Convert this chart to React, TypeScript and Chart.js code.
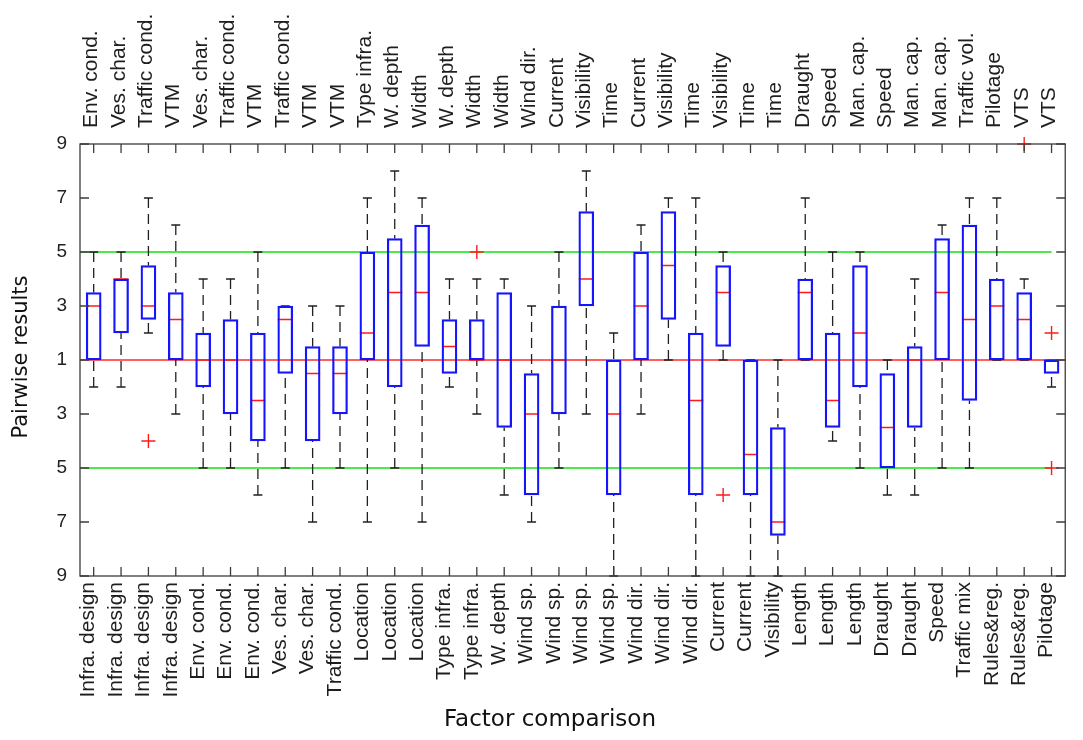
import { useEffect, useRef } from 'react';
import { Chart, registerables } from 'chart.js';

Chart.register(...registerables);

// Factor on the second side of each pairwise comparison (top axis)
const topLabels = [
  'Env. cond.', 'Ves. char.', 'Traffic cond.', 'VTM', 'Ves. char.', 'Traffic cond.', 'VTM',
  'Traffic cond.', 'VTM', 'VTM', 'Type infra.', 'W. depth', 'Width', 'W. depth', 'Width',
  'Width', 'Wind dir.', 'Current', 'Visibility', 'Time', 'Current', 'Visibility', 'Time',
  'Visibility', 'Time', 'Time', 'Draught', 'Speed', 'Man. cap.', 'Speed', 'Man. cap.',
  'Man. cap.', 'Traffic vol.', 'Pilotage', 'VTS', 'VTS',
];

// Factor on the first side of each pairwise comparison (bottom axis)
const bottomLabels = [
  'Infra. design', 'Infra. design', 'Infra. design', 'Infra. design', 'Env. cond.',
  'Env. cond.', 'Env. cond.', 'Ves. char.', 'Ves. char.', 'Traffic cond.', 'Location',
  'Location', 'Location', 'Type infra.', 'Type infra.', 'W. depth', 'Wind sp.', 'Wind sp.',
  'Wind sp.', 'Wind sp.', 'Wind dir.', 'Wind dir.', 'Wind dir.', 'Current', 'Current',
  'Visibility', 'Length', 'Length', 'Length', 'Draught', 'Draught', 'Speed', 'Traffic mix',
  'Rules&reg.', 'Rules&reg.', 'Pilotage',
];

// Box statistics on the signed scale: 0 = equal importance (1),
// +k = top factor favoured (k+1), -k = bottom factor favoured (k+1)
const whiskerHigh = [4, 4, 6, 5, 3, 3, 4, 2, 2, 2, 6, 7, 6, 3, 3, 3, 2, 4, 7, 1, 5, 6, 6, 4, 0, 0, 6, 4, 4, 0, 3, 5, 6, 6, 3, 0];
const boxHigh = [2.5, 3, 3.5, 2.5, 1, 1.5, 1, 2, 0.5, 0.5, 4, 4.5, 5, 1.5, 1.5, 2.5, -0.5, 2, 5.5, 0, 4, 5.5, 1, 3.5, 0, -2.5, 3, 1, 3.5, -0.5, 0.5, 4.5, 5, 3, 2.5, 0];
const medians = [2, 3, 2, 1.5, 0, 0, -1.5, 1.5, -0.5, -0.5, 1, 2.5, 2.5, 0.5, 0, 0, -2, 0, 3, -2, 2, 3.5, -1.5, 2.5, -3.5, -6, 2.5, -1.5, 1, -2.5, 0, 2.5, 1.5, 2, 1.5, 0];
const boxLow = [0, 1, 1.5, 0, -1, -2, -3, -0.5, -3, -2, 0, -1, 0.5, -0.5, 0, -2.5, -5, -2, 2, -5, 0, 1.5, -5, 0.5, -5, -6.5, 0, -2.5, -1, -4, -2.5, 0, -1.5, 0, 0, -0.5];
const whiskerLow = [-1, -1, 1, -2, -4, -4, -5, -4, -6, -4, -6, -4, -6, -1, -2, -5, -6, -4, -2, -8, -2, 0, -8, 0, -8, -8, 0, -3, -4, -5, -5, -4, -4, 0, 0, -1];

// Outliers: comparison number and value
const outlierComparison = [3, 15, 24, 35, 36, 36];
const outlierValue = [-3, 4, -5, 8, 1, -4];

// Signed scale ticks and the guide lines (equal importance, +/-5)
const yTickValues = [-8, -6, -4, -2, 0, 2, 4, 6, 8];
const greenLevels = [4, -4];
const redLevel = 0;

const TICK_FONT = '"Liberation Sans", Arial, sans-serif';
const TITLE_FONT = '"DejaVu Sans", Verdana, sans-serif';

const boxplotDecor = {
  id: 'boxplotDecor',
  beforeDatasetsDraw(chart: any) {
    const { ctx, chartArea } = chart;
    const xs = chart.scales.x;
    const ys = chart.scales.y;
    ctx.save();
    // guide lines
    ctx.lineWidth = 1.6;
    ctx.strokeStyle = '#10e010';
    greenLevels.forEach((lv) => {
      const y = ys.getPixelForValue(lv);
      ctx.beginPath();
      ctx.moveTo(chartArea.left, y);
      ctx.lineTo(xs.getPixelForValue(36), y);
      ctx.stroke();
    });
    ctx.strokeStyle = '#ff2a2a';
    const yr = ys.getPixelForValue(redLevel);
    ctx.beginPath();
    ctx.moveTo(chartArea.left, yr);
    ctx.lineTo(chartArea.right, yr);
    ctx.stroke();

    // whiskers
    ctx.strokeStyle = '#202020';
    ctx.lineWidth = 1.3;
    for (let i = 0; i < whiskerHigh.length; i++) {
      const x = xs.getPixelForValue(i + 1);
      const yWh = ys.getPixelForValue(whiskerHigh[i]);
      const yBh = ys.getPixelForValue(boxHigh[i]);
      const yBl = ys.getPixelForValue(boxLow[i]);
      const yWl = ys.getPixelForValue(whiskerLow[i]);
      ctx.setLineDash([10, 6]);
      ctx.beginPath();
      ctx.moveTo(x, yWh);
      ctx.lineTo(x, yBh);
      ctx.moveTo(x, yWl);
      ctx.lineTo(x, yBl);
      ctx.stroke();
      ctx.setLineDash([]);
      ctx.beginPath();
      ctx.moveTo(x - 4.5, yWh);
      ctx.lineTo(x + 4.5, yWh);
      ctx.moveTo(x - 4.5, yWl);
      ctx.lineTo(x + 4.5, yWl);
      ctx.stroke();
    }
    ctx.restore();
  },
  afterDraw(chart: any) {
    const { ctx, chartArea } = chart;
    const xs = chart.scales.x;
    const ys = chart.scales.y;
    const { left, right, top, bottom } = chartArea;
    ctx.save();
    // axes frame
    ctx.strokeStyle = '#3c3c3c';
    ctx.lineWidth = 1.3;
    ctx.strokeRect(left, top, right - left, bottom - top);
    // inward tick marks
    const tl = 9;
    ctx.beginPath();
    for (let i = 0; i < bottomLabels.length; i++) {
      const x = xs.getPixelForValue(i + 1);
      ctx.moveTo(x, top);
      ctx.lineTo(x, top + tl);
      ctx.moveTo(x, bottom);
      ctx.lineTo(x, bottom - tl);
    }
    yTickValues.forEach((v) => {
      const y = ys.getPixelForValue(v);
      ctx.moveTo(left, y);
      ctx.lineTo(left + tl, y);
      ctx.moveTo(right, y);
      ctx.lineTo(right - tl, y);
    });
    ctx.stroke();

    // axis titles
    ctx.fillStyle = '#111111';
    ctx.textAlign = 'center';
    ctx.textBaseline = 'middle';
    ctx.font = `23px ${TITLE_FONT}`;
    ctx.fillText('Factor comparison', 550, 720);
    ctx.translate(22, 357);
    ctx.rotate(-Math.PI / 2);
    ctx.font = `21px ${TITLE_FONT}`;
    ctx.fillText('Pairwise results', 0, 0);
    ctx.restore();
  },
};

function categoryAxis(labels: string[], position: string, size: number, padding: number, labelOffset: number) {
  return {
    type: 'linear',
    position,
    min: 0.5,
    max: 36.5,
    offset: false,
    afterBuildTicks: (s: any) => {
      s.ticks = labels.map((_, i) => ({ value: i + 1 }));
    },
    afterFit: (s: any) => {
      s.height = size;
    },
    ticks: {
      autoSkip: false,
      minRotation: 90,
      maxRotation: 90,
      padding,
      labelOffset,
      color: '#1e1e1e',
      font: { family: TICK_FONT, size: 21 },
      callback: (_v: any, index: number) => labels[index],
    },
    grid: { display: false, drawTicks: false },
    border: { display: false },
  };
}

export default function App() {
  const canvasRef = useRef<HTMLCanvasElement | null>(null);

  useEffect(() => {
    if (!canvasRef.current) return;
    const chart = new Chart(canvasRef.current, {
      type: 'bar',
      data: {
        datasets: [
          {
            type: 'bar',
            data: boxLow.map((lo, i) => ({ x: i + 1, y: [lo, boxHigh[i]] })) as any,
            xAxisID: 'x',
            yAxisID: 'y',
            backgroundColor: 'rgba(0,0,0,0)',
            borderColor: '#1414ff',
            borderWidth: 1.6,
            borderSkipped: false,
            barThickness: 15,
          },
          {
            type: 'scatter',
            data: medians.map((m, i) => ({ x: i + 1, y: m })),
            xAxisID: 'x',
            yAxisID: 'y',
            pointStyle: 'line',
            pointRadius: 7.5,
            borderColor: '#ff1a1a',
            borderWidth: 1.6,
            showLine: false,
          },
          {
            type: 'scatter',
            data: outlierComparison.map((c, i) => ({ x: c, y: outlierValue[i] })),
            xAxisID: 'x',
            yAxisID: 'y',
            pointStyle: 'cross',
            pointRadius: 7,
            borderColor: '#ff1a1a',
            borderWidth: 1.4,
            showLine: false,
            clip: false,
          },
        ] as any,
      },
      options: {
        responsive: false,
        animation: false,
        devicePixelRatio: 1,
        layout: { padding: { left: 0, right: 8, top: 0, bottom: 0 } },
        plugins: {
          legend: { display: false },
          tooltip: { enabled: false },
        },
        scales: {
          x: categoryAxis(bottomLabels, 'bottom', 164, 6, -5) as any,
          x2: categoryAxis(topLabels, 'top', 144, 16, 23) as any,
          y: {
            type: 'linear',
            min: -8,
            max: 8,
            afterBuildTicks: (s: any) => {
              s.ticks = yTickValues.map((v) => ({ value: v }));
            },
            afterFit: (s: any) => {
              s.width = 80;
            },
            ticks: {
              padding: 13,
              color: '#222222',
              font: { family: TICK_FONT, size: 19 },
              callback: (v: any) => String(Math.abs(Number(v)) + 1),
            },
            grid: { display: false, drawTicks: false },
            border: { display: false },
          },
        },
      },
      plugins: [boxplotDecor],
    });
    return () => chart.destroy();
  }, []);

  return (
    <div style={{ position: 'fixed', left: 0, top: 0, width: 1083, height: 740, background: '#ffffff' }}>
      <canvas ref={canvasRef} width={1083} height={740} />
    </div>
  );
}
